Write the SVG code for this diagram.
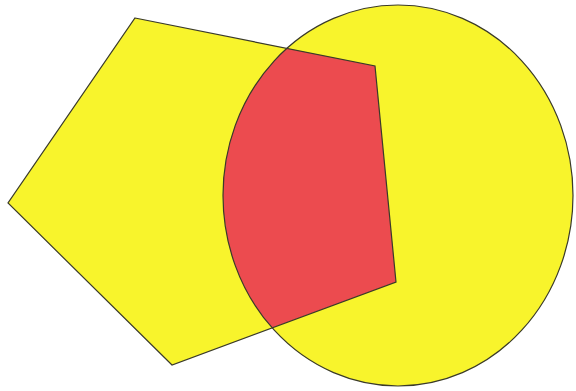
<svg xmlns="http://www.w3.org/2000/svg" width="576" height="391" viewBox="0 0 576 391">
<style>
.y{fill:#f8f42c;stroke:none}
.r{fill:#ec4b4f;stroke:none}
.o{fill:none;stroke:#3a3a2a;stroke-width:1.2;stroke-linejoin:miter}
</style>
<defs>
<clipPath id="clipE"><ellipse cx="398" cy="195.5" rx="175" ry="190.5"/></clipPath>
</defs>
<g id="circle"><ellipse class="y" cx="398" cy="195.5" rx="175" ry="190.5"/></g>
<g id="pentagon"><polygon class="y" points="135,18 375,66 396,282 172,365 8,203"/></g>
<g id="intersection"><polygon class="r" clip-path="url(#clipE)" points="135,18 375,66 396,282 172,365 8,203"/></g>
<g id="outlines">
<ellipse class="o" cx="398" cy="195.5" rx="175" ry="190.5"/>
<polygon class="o" points="135,18 375,66 396,282 172,365 8,203"/>
</g>
</svg>
